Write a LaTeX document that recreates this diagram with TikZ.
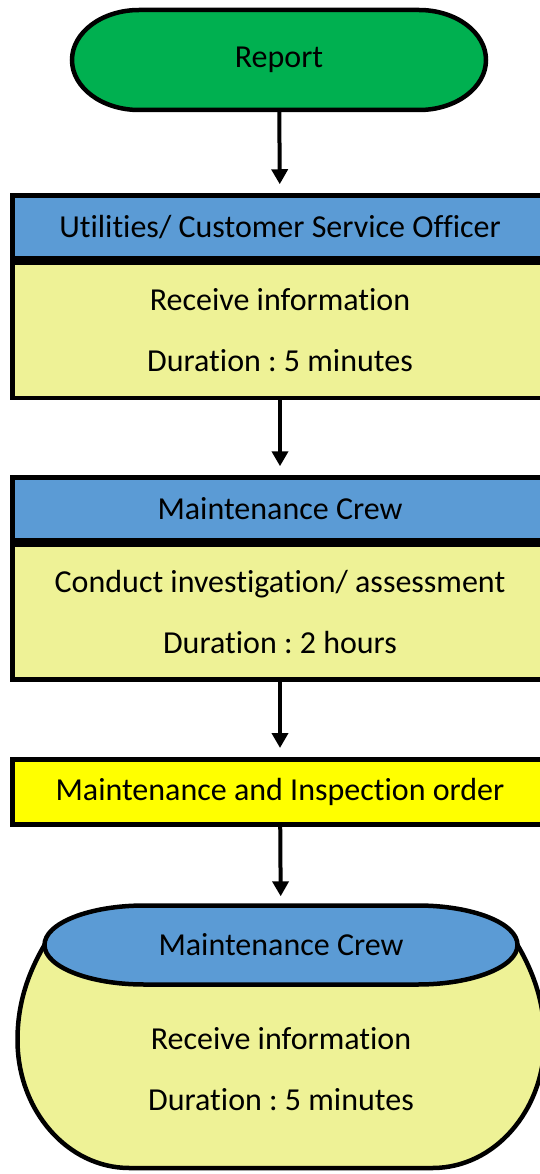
\documentclass[tikz,border=0pt]{standalone}
\usepackage{fontspec}
\setmainfont[Ligatures=NoCommon]{Carlito}
\usetikzlibrary{arrows.meta}
\definecolor{startgreen}{RGB}{0,176,80}
\definecolor{headblue}{RGB}{91,155,213}
\definecolor{bodyyellow}{RGB}{238,242,150}
\definecolor{orderyellow}{RGB}{255,255,0}
\frenchspacing
\begin{document}
\begin{tikzpicture}
    [
    x=1pt, y=1pt,
    every node/.style={font=\fontsize{32}{61}\selectfont, align=center, inner sep=0pt},
    box/.style={rectangle, draw, line width=4.5pt, minimum width=535pt},
    header/.style={box, fill=headblue, minimum height=63pt},
    body/.style={box, fill=bodyyellow, minimum height=135pt},
    order/.style={box, fill=orderyellow, minimum height=65pt},
    outline/.style={draw, line width=4.5pt},
    flow/.style={-{Triangle[width=16pt,length=15pt]}, line width=4pt, shorten >=9pt}
    ]
    \useasboundingbox (0,0) rectangle (540,-1174);
    % start
    \filldraw [outline, fill=startgreen] (139,-10) -- (419,-10)
        arc [start angle=90, end angle=-90, x radius=67, y radius=50] -- (139,-110)
        arc [start angle=270, end angle=90, x radius=67, y radius=50] -- cycle;
    \node (report) at (279,-60) [minimum width=414pt, minimum height=100pt] {Report};
    % first officer
    \node (cso) at (280,-227) [header] {Utilities/ Customer Service Officer};
    \node (recv1) at (280,-330.5) [body] {Receive information\\Duration : 5 minutes};
    % crew
    \node (crew) at (280,-509) [header] {Maintenance Crew};
    \node (assess) at (280,-612) [body] {Conduct investigation/ assessment\\Duration : 2 hours};
    \node (order) at (280,-791.75) [order] {Maintenance and Inspection order};
    % drum
    \filldraw [outline, fill=bodyyellow] (44.5,-945) .. controls (27,-975) and (17.5,-1005) .. (17.5,-1040)
        arc [start angle=180, end angle=270, x radius=112, y radius=128] -- (432.5,-1168)
        arc [start angle=270, end angle=360, x radius=112, y radius=128]
        .. controls (544.5,-1005) and (535,-975) .. (517.5,-945) -- cycle;
    \filldraw [outline, fill=headblue] (144.5,-905.5) -- (417.5,-905.5)
        arc [start angle=90, end angle=-90, x radius=100, y radius=39.5] -- (144.5,-984.5)
        arc [start angle=270, end angle=90, x radius=100, y radius=39.5] -- cycle;
    \node (crewtop) at (281,-945) [minimum width=473pt, minimum height=79pt] {Maintenance Crew};
    \node (recv2) at (281,-1069) {Receive information\\Duration : 5 minutes};
    \draw [flow] (report) -- (cso);
    \draw [flow] (recv1) -- (crew);
    \draw [flow] (assess) -- (order);
    \draw [flow] (order) -- (crewtop);
\end{tikzpicture}
\end{document}
